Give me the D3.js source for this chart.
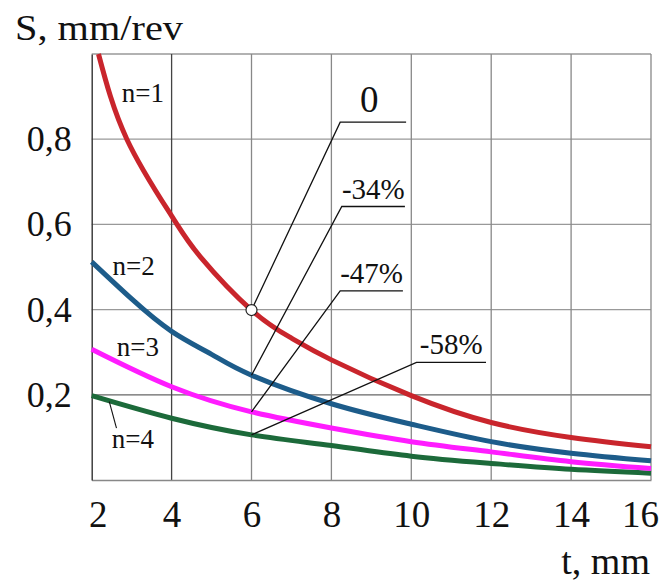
<!DOCTYPE html>
<html>
<head>
<meta charset="utf-8">
<script src="https://cdn.jsdelivr.net/npm/d3@7"></script>
<style>
  body { margin: 0; background: #fff; }
  svg text { font-family: "Liberation Serif", serif; fill: #111; }
</style>
</head>
<body>
<div class="chart"></div>
<script>
// Data
const xTicks = [2, 4, 6, 8, 10, 12, 14, 16];
const yTicks = [0.2, 0.4, 0.6, 0.8];

const n1T = [2.17, 2.88, 4, 4.72, 6, 7, 8, 10, 12, 14, 16];
const n1S = [1.0, 0.8, 0.62, 0.524, 0.399, 0.333, 0.282, 0.198, 0.135, 0.100, 0.078];
const n2T = [2, 3, 4, 5, 6, 8, 10, 12, 14, 16];
const n2S = [0.512, 0.425, 0.349, 0.295, 0.246, 0.179, 0.131, 0.090, 0.063, 0.045];
const n3T = [2, 4, 6, 8, 10, 12, 14, 16];
const n3S = [0.307, 0.219, 0.160, 0.122, 0.090, 0.066, 0.043, 0.027];
const n4T = [2, 4, 6, 8, 10, 12, 14, 16];
const n4S = [0.198, 0.145, 0.106, 0.081, 0.056, 0.039, 0.025, 0.016];

const seriesNames = ["n=1", "n=2", "n=3", "n=4"];
const seriesColors = ["#c9252c", "#1d5c8a", "#ff1cff", "#1c6a3a"];
// where the "n=" labels sit, in data units
const nameT = [2.75, 2.52, 2.63, 2.50];
const nameS = [0.888, 0.481, 0.291, 0.074];

// reduction callouts, all pointing at t = 6
const refT = 6;
const calloutText = ["0", "-34%", "-47%", "-58%"];
const calloutT0 = [8.22, 8.26, 8.22, 10.13];
const calloutT1 = [9.87, 9.84, 9.79, 11.87];
const calloutS = [0.840, 0.642, 0.444, 0.276];

// Set Dimensions
const width = 667, height = 581;
const pLeft = 91.7, pRight = 651, pTop = 54, pBottom = 480;
const serif = '"Liberation Serif", serif';

const svg = d3.select(".chart")
    .append("svg")
    .attr("width", width)
    .attr("height", height);

const x = d3.scaleLinear().domain([2, 16]).range([pLeft, pRight]);
const y = d3.scaleLinear().domain([0, 1]).range([pBottom, pTop]);

// grid: horizontal lines
svg.append("g")
    .selectAll("line")
    .data(yTicks.concat([1]))
    .join("line")
    .attr("x1", pLeft).attr("x2", pRight)
    .attr("y1", d => y(d)).attr("y2", d => y(d))
    .attr("stroke", d => d == 0.2 ? "#666" : "#999")
    .attr("stroke-width", 1.3);

// grid: vertical lines
svg.append("g")
    .selectAll("line")
    .data(xTicks.slice(1))
    .join("line")
    .attr("x1", d => x(d)).attr("x2", d => x(d))
    .attr("y1", pTop).attr("y2", pBottom)
    .attr("stroke", d => d == 4 ? "#444" : "#888")
    .attr("stroke-width", 1.3);

// bottom axis
const xAxis = svg.append("g")
    .attr("transform", "translate(0," + pBottom + ")")
    .call(d3.axisBottom(x).tickValues(xTicks).tickSize(0).tickPadding(21));
xAxis.select(".domain").attr("stroke", "#888").attr("stroke-width", 1.3);
xAxis.selectAll("text")
    .attr("fill", "#111")
    .attr("dx", d => d == 2 ? 6 : (d == 16 ? -11 : 0))
    .style("font-family", serif)
    .style("font-size", "37px");

// left axis
const yAxis = svg.append("g")
    .attr("transform", "translate(" + pLeft + ",0)")
    .call(d3.axisLeft(y).tickValues(yTicks).tickSize(0).tickPadding(20)
        .tickFormat(d => d.toFixed(1).replace(".", ",")));
yAxis.select(".domain").attr("stroke", "#333").attr("stroke-width", 1.4);
yAxis.selectAll("text")
    .attr("fill", "#111")
    .style("font-family", serif)
    .style("font-size", "36px");

// axis titles
svg.append("text")
    .attr("transform", "translate(15,40) scale(1.12,1)")
    .style("font-family", serif)
    .style("font-size", "36px")
    .text("S, mm/rev");

svg.append("text")
    .attr("x", 650).attr("y", 574)
    .attr("text-anchor", "end")
    .style("font-family", serif)
    .style("font-size", "38px")
    .text("t, mm");

// curves
const series = [
    n1T.map((t, i) => ({t: t, s: n1S[i]})),
    n2T.map((t, i) => ({t: t, s: n2S[i]})),
    n3T.map((t, i) => ({t: t, s: n3S[i]})),
    n4T.map((t, i) => ({t: t, s: n4S[i]}))
];

const line = d3.line()
    .x(d => x(d.t))
    .y(d => y(d.s))
    .curve(d3.curveNatural);

// draw bottom series first so red sits on top
for (let i = series.length - 1; i >= 0; i--) {
    svg.append("path")
        .datum(series[i])
        .attr("fill", "none")
        .attr("stroke", seriesColors[i])
        .attr("stroke-width", 5)
        .attr("d", line);
}

// n= labels
svg.append("g")
    .selectAll("text")
    .data(seriesNames)
    .join("text")
    .attr("x", (d, i) => x(nameT[i]))
    .attr("y", (d, i) => y(nameS[i]))
    .style("font-family", serif)
    .style("font-size", "27px")
    .text(d => d);

// leader for n=4
svg.append("line")
    .attr("x1", x(2.44)).attr("y1", y(0.184))
    .attr("x2", x(2.62)).attr("y2", y(0.122))
    .attr("stroke", "#111").attr("stroke-width", 1.1);

// callouts
const refS = series.map(s => s.find(d => d.t == refT).s);
const callouts = svg.append("g");
calloutText.forEach(function(label, i) {
    callouts.append("polyline")
        .attr("points", [
            [x(refT), y(refS[i])],
            [x(calloutT0[i]), y(calloutS[i])],
            [x(calloutT1[i]), y(calloutS[i])]
        ].map(p => p.join(",")).join(" "))
        .attr("fill", "none")
        .attr("stroke", "#111")
        .attr("stroke-width", 1.3);
    callouts.append("text")
        .attr("x", (x(calloutT0[i]) + x(calloutT1[i])) / 2 - (i == 0 ? 4 : 0))
        .attr("y", y(calloutS[i]) - (i == 0 ? 10 : 8))
        .attr("text-anchor", "middle")
        .style("font-family", serif)
        .style("font-size", i == 0 ? "37px" : "29px")
        .text(label);
});

// reference point on n=1
svg.append("circle")
    .attr("cx", x(refT))
    .attr("cy", y(refS[0]))
    .attr("r", 5.5)
    .attr("fill", "#fff")
    .attr("stroke", "#222")
    .attr("stroke-width", 1.2);
</script>
</body>
</html>
